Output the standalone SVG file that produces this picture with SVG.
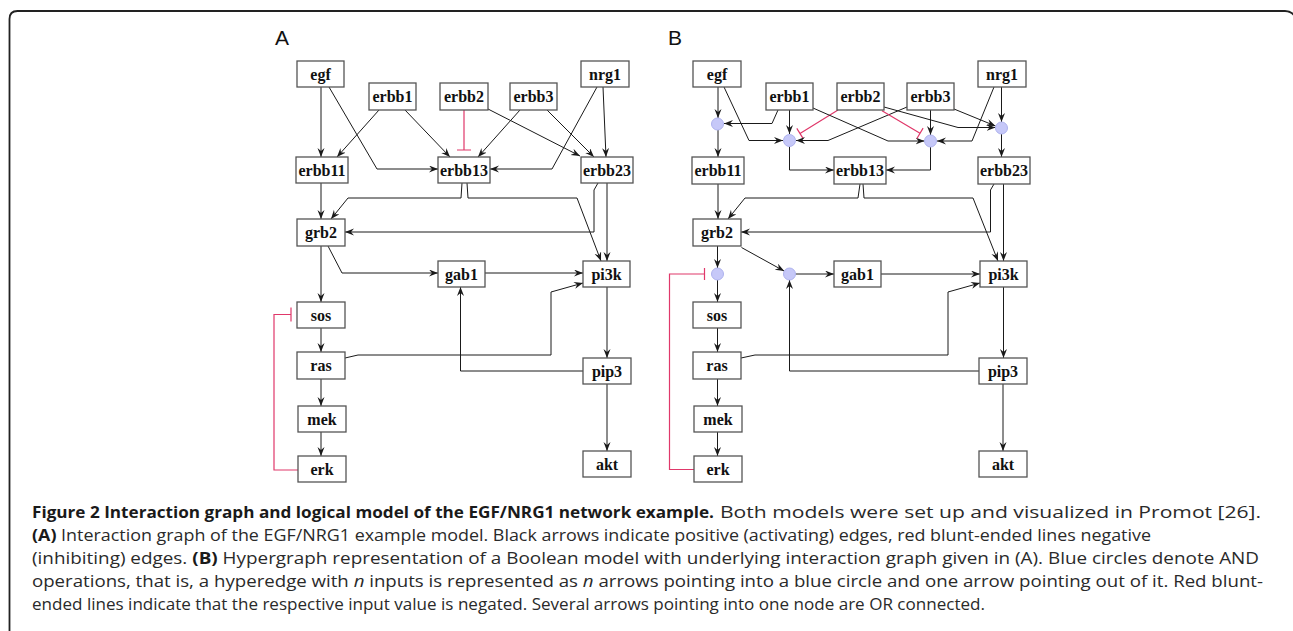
<svg xmlns="http://www.w3.org/2000/svg" width="1293" height="631" viewBox="0 0 1293 631">
<style>
.nd rect{fill:#fff;stroke:#555;stroke-width:1.3}
.nd text{font-family:"Liberation Serif","DejaVu Serif",serif;font-weight:bold;font-size:16px;fill:#111;text-anchor:middle}
.e{fill:none;stroke:#1a1a1a;stroke-width:1;marker-end:url(#arr)}
.inh{fill:none;stroke:#e0386a;stroke-width:1.2}
.and{fill:#c6c8f8;stroke:#aeb2ee;stroke-width:1}
.lbl{font-family:"Liberation Sans",Arial,sans-serif;font-size:21px;fill:#111}
.cap{font-family:"Open Sans","Noto Sans",sans-serif;font-size:15.5px;fill:#2a2a2a}
.b{font-weight:bold;fill:#1a1a1a}
</style>
<defs>
<marker id="arr" markerUnits="userSpaceOnUse" markerWidth="10" markerHeight="8" refX="9" refY="3.5" orient="auto">
<path d="M0,0 L9,3.5 L0,7 L3,3.5 Z" fill="#1a1a1a"/>
</marker>
</defs>
<rect width="1293" height="631" fill="#fff"/>
<path d="M9.5,631 V19 Q9.5,11 17.5,11 H1285 Q1292,11 1295,17" fill="none" stroke="#222" stroke-width="1.8"/>
<text class="lbl" x="275" y="45">A</text>
<text class="lbl" x="668" y="45">B</text>

<g id="connectors-A">
<path class="e" d="M321,87 V157"/>
<path class="e" d="M329,87 L377,169 H438"/>
<path class="e" d="M379,110 L337,157"/>
<path class="e" d="M405,110 L450,157"/>
<path class="inh" d="M464,110 V150 M457,150 H471"/>
<path class="e" d="M520,110 L478,157"/>
<path class="e" d="M488,109 L580,156"/>
<path class="e" d="M547,110 L594,157"/>
<path class="e" d="M603,87 L606,157"/>
<path class="e" d="M597,87 L552,169 H490"/>
<path class="e" d="M321,183 V219"/>
<path class="e" d="M462,183 L461,198 H348 L331,219"/>
<path class="e" d="M467,183 L468,198 H577 L601,261"/>
<path class="e" d="M598,183 L594,190 V232 H345"/>
<path class="e" d="M607,183 V261"/>
<path class="e" d="M328,246 L342,273 H438"/>
<path class="e" d="M485,273 H583"/>
<path class="e" d="M321,246 V302"/>
<path class="inh" d="M298,470 H274 V314.5 H291 M291,307.5 V321.5"/>
<path class="e" d="M345,358 L358,355 H551 V292 L583,283"/>
<path class="e" d="M583,371 H460.5 V287"/>
<path class="e" d="M607,287 V358"/>
<path class="e" d="M321,328 V352"/>
<path class="e" d="M321,379 V406"/>
<path class="e" d="M321,432 V456"/>
<path class="e" d="M607,384 V451"/>
</g>

<g id="connectors-B">
<path class="e" d="M718,87 V118"/>
<path class="e" d="M778,110 L772,123.5 H724"/>
<path class="e" d="M718,130 V157"/>
<path class="e" d="M724,87 L749,140.5 H783"/>
<path class="e" d="M789.5,110 V134"/>
<path class="inh" d="M838,110 L800,133.5 M796.8,128.4 L803.2,138.6"/>
<path class="e" d="M907,107 L828,140.5 H796"/>
<path class="e" d="M813,108 L888,141 H924.5"/>
<path class="inh" d="M882,110.7 L920,133.3 M916.9,138.5 L923.1,128.1"/>
<path class="e" d="M930.5,110 V135"/>
<path class="e" d="M994,87 L972,141 H937"/>
<path class="e" d="M884,107 L958,127.5 H995.5"/>
<path class="e" d="M954,109 L995.5,126"/>
<path class="e" d="M1001.5,87 V122"/>
<path class="e" d="M1001.5,134 V157"/>
<path class="e" d="M789.5,146.5 V170 H834"/>
<path class="e" d="M930.5,147 V170 H886"/>
<path class="e" d="M718,184 V219"/>
<path class="e" d="M860,184 L858,198 H745 L728,219"/>
<path class="e" d="M863,184 L864,198 H973 L998,261"/>
<path class="e" d="M994,184 L990.5,190 V232 H741"/>
<path class="e" d="M1003.5,184 V261"/>
<path class="e" d="M717.5,246 V268"/>
<path class="e" d="M717.5,280 V302"/>
<path class="e" d="M741.5,247.5 L784.2,271.1"/>
<path class="e" d="M795.5,274 H834"/>
<path class="e" d="M881,274 H980"/>
<path class="inh" d="M694,469.5 H669.5 V274 H704.5 M704.5,268 V280"/>
<path class="e" d="M741,358 L755,355 H948 V292 L980,283"/>
<path class="e" d="M979,371 H789.5 V280"/>
<path class="e" d="M1003.5,287 V358"/>
<path class="e" d="M717.5,328 V352"/>
<path class="e" d="M717.5,379 V406"/>
<path class="e" d="M717.5,432 V456"/>
<path class="e" d="M1003,384 V451"/>
</g>

<g id="A-egf" class="nd"><rect x="297" y="61" width="47" height="26"/><text x="320.5" y="79.5">egf</text></g>
<g id="A-erbb1" class="nd"><rect x="369" y="83" width="47" height="27"/><text x="392.5" y="102">erbb1</text></g>
<g id="A-erbb2" class="nd"><rect x="440" y="83" width="48" height="27"/><text x="464" y="102">erbb2</text></g>
<g id="A-erbb3" class="nd"><rect x="510" y="83" width="47" height="27"/><text x="533.5" y="102">erbb3</text></g>
<g id="A-nrg1" class="nd"><rect x="581" y="61" width="48" height="26"/><text x="605" y="79.5">nrg1</text></g>
<g id="A-erbb11" class="nd"><rect x="296" y="157" width="52" height="26"/><text x="322" y="175.5">erbb11</text></g>
<g id="A-erbb13" class="nd"><rect x="438" y="157" width="52" height="26"/><text x="464" y="175.5">erbb13</text></g>
<g id="A-erbb23" class="nd"><rect x="581" y="157" width="52" height="26"/><text x="607" y="175.5">erbb23</text></g>
<g id="A-grb2" class="nd"><rect x="297" y="219" width="48" height="27"/><text x="321" y="238">grb2</text></g>
<g id="A-gab1" class="nd"><rect x="438" y="261" width="47" height="26"/><text x="461.5" y="279.5">gab1</text></g>
<g id="A-pi3k" class="nd"><rect x="583" y="261" width="47" height="26"/><text x="606.5" y="279.5">pi3k</text></g>
<g id="A-sos" class="nd"><rect x="297" y="302" width="48" height="26"/><text x="321" y="320.5">sos</text></g>
<g id="A-ras" class="nd"><rect x="297" y="352" width="48" height="27"/><text x="321" y="371">ras</text></g>
<g id="A-mek" class="nd"><rect x="298" y="406" width="48" height="26"/><text x="322" y="424.5">mek</text></g>
<g id="A-erk" class="nd"><rect x="298" y="456" width="48" height="26"/><text x="322" y="474.5">erk</text></g>
<g id="A-pip3" class="nd"><rect x="583" y="358" width="48" height="26"/><text x="607" y="376.5">pip3</text></g>
<g id="A-akt" class="nd"><rect x="583" y="451" width="48" height="26"/><text x="607" y="469.5">akt</text></g>

<g id="B-egf" class="nd"><rect x="693" y="61" width="48" height="26"/><text x="717" y="79.5">egf</text></g>
<g id="B-erbb1" class="nd"><rect x="766" y="83" width="47" height="27"/><text x="789.5" y="102">erbb1</text></g>
<g id="B-erbb2" class="nd"><rect x="837" y="83" width="47" height="27"/><text x="860.5" y="102">erbb2</text></g>
<g id="B-erbb3" class="nd"><rect x="907" y="83" width="47" height="27"/><text x="930.5" y="102">erbb3</text></g>
<g id="B-nrg1" class="nd"><rect x="978" y="61" width="48" height="26"/><text x="1002" y="79.5">nrg1</text></g>
<g id="B-erbb11" class="nd"><rect x="692" y="157" width="52" height="27"/><text x="718" y="176">erbb11</text></g>
<g id="B-erbb13" class="nd"><rect x="834" y="157" width="52" height="27"/><text x="860" y="176">erbb13</text></g>
<g id="B-erbb23" class="nd"><rect x="978" y="157" width="52" height="27"/><text x="1004" y="176">erbb23</text></g>
<g id="B-grb2" class="nd"><rect x="693" y="219" width="48" height="27"/><text x="717" y="238">grb2</text></g>
<g id="B-gab1" class="nd"><rect x="834" y="261" width="47" height="26"/><text x="857.5" y="279.5">gab1</text></g>
<g id="B-pi3k" class="nd"><rect x="980" y="261" width="47" height="26"/><text x="1003.5" y="279.5">pi3k</text></g>
<g id="B-sos" class="nd"><rect x="693" y="302" width="48" height="26"/><text x="717" y="320.5">sos</text></g>
<g id="B-ras" class="nd"><rect x="693" y="352" width="48" height="27"/><text x="717" y="371">ras</text></g>
<g id="B-mek" class="nd"><rect x="694" y="406" width="48" height="26"/><text x="718" y="424.5">mek</text></g>
<g id="B-erk" class="nd"><rect x="694" y="456" width="48" height="26"/><text x="718" y="474.5">erk</text></g>
<g id="B-pip3" class="nd"><rect x="979" y="358" width="48" height="26"/><text x="1003" y="376.5">pip3</text></g>
<g id="B-akt" class="nd"><rect x="979" y="451" width="48" height="26"/><text x="1003" y="469.5">akt</text></g>

<g id="B-and1"><circle class="and" cx="717.5" cy="124" r="6"/></g>
<g id="B-and2"><circle class="and" cx="789.5" cy="140.5" r="6"/></g>
<g id="B-and3"><circle class="and" cx="930.5" cy="141" r="6"/></g>
<g id="B-and4"><circle class="and" cx="1001.5" cy="128" r="6"/></g>
<g id="B-and5"><circle class="and" cx="717.5" cy="274" r="6"/></g>
<g id="B-and6"><circle class="and" cx="789.5" cy="274" r="6"/></g>

<g id="caption" class="cap">
<text class="b" x="32" y="518" textLength="682" lengthAdjust="spacingAndGlyphs">Figure 2 Interaction graph and logical model of the EGF/NRG1 network example.</text>
<text x="720" y="518" textLength="541" lengthAdjust="spacingAndGlyphs">Both models were set up and visualized in Promot [26].</text>
<text x="32" y="541" textLength="1119" lengthAdjust="spacingAndGlyphs"><tspan class="b">(A)</tspan> Interaction graph of the EGF/NRG1 example model. Black arrows indicate positive (activating) edges, red blunt-ended lines negative</text>
<text x="32" y="564" textLength="1227" lengthAdjust="spacingAndGlyphs">(inhibiting) edges. <tspan class="b">(B)</tspan> Hypergraph representation of a Boolean model with underlying interaction graph given in (A). Blue circles denote AND</text>
<text x="32" y="587" textLength="1231" lengthAdjust="spacingAndGlyphs">operations, that is, a hyperedge with <tspan font-style="italic">n</tspan> inputs is represented as <tspan font-style="italic">n</tspan> arrows pointing into a blue circle and one arrow pointing out of it. Red blunt-</text>
<text x="32" y="610" textLength="953" lengthAdjust="spacingAndGlyphs">ended lines indicate that the respective input value is negated. Several arrows pointing into one node are OR connected.</text>
</g>
</svg>
